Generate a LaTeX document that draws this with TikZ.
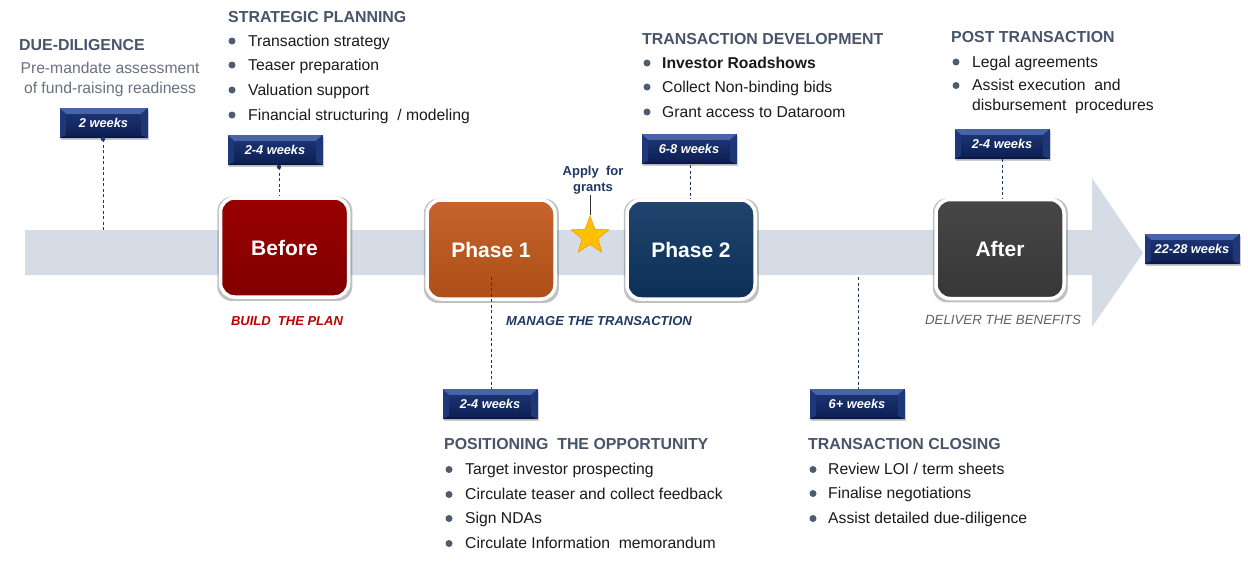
\documentclass[tikz,border=0pt]{standalone}
\usepackage{fontspec}
\setmainfont{Liberation Sans}
\usetikzlibrary{shapes.geometric,shadows,calc}
\definecolor{band}{HTML}{D6DCE5}
\definecolor{headc}{HTML}{47546A}
\definecolor{subc}{HTML}{6A7280}
\definecolor{bulc}{HTML}{4F5B6E}
\definecolor{txt}{HTML}{1A1A1A}
\definecolor{redb}{HTML}{990000}
\definecolor{orab}{HTML}{C0571A}
\definecolor{navb}{HTML}{0D3461}
\definecolor{grab}{HTML}{3D3D3D}
\definecolor{tagside}{HTML}{1E3778}
\definecolor{tagtopb}{HTML}{4864A6}
\definecolor{tagbotb}{HTML}{0B1A45}
\definecolor{tagtop}{HTML}{1B3371}
\definecolor{tagbot}{HTML}{0E2055}
\definecolor{dashc}{HTML}{1F3864}
\definecolor{starc}{HTML}{FFC000}
\begin{document}
\begin{tikzpicture}[x=1pt,y=-1pt,
  phase/.style={rounded corners=14pt, minimum width=128pt, minimum height=99pt,
    text=white, font=\bfseries\fontsize{21}{24}\selectfont, draw=white, line width=3.5pt,
    drop shadow={shadow scale=1.055, shadow xshift=0.3pt, shadow yshift=-1.2pt, opacity=0.4, fill=black!60}},
  tag/.style={minimum width=95pt, minimum height=30pt, inner sep=0pt, fill=tagside,
    text=white, font=\bfseries\itshape\fontsize{12.8}{14}\selectfont,
    drop shadow={opacity=0.4,shadow xshift=1.5pt,shadow yshift=-2pt},
    path picture={
      \fill[tagtopb] (path picture bounding box.north west) -- (path picture bounding box.north east)
        -- ([xshift=-7pt,yshift=-6pt]path picture bounding box.north east)
        -- ([xshift=7pt,yshift=-6pt]path picture bounding box.north west) -- cycle;
      \fill[tagbotb] (path picture bounding box.south west) -- (path picture bounding box.south east)
        -- ([xshift=-7pt,yshift=3pt]path picture bounding box.south east)
        -- ([xshift=7pt,yshift=3pt]path picture bounding box.south west) -- cycle;
      \fill[top color=tagtop,bottom color=tagbot]
      ([xshift=7pt,yshift=-6pt]path picture bounding box.north west) rectangle
      ([xshift=-7pt,yshift=3pt]path picture bounding box.south east);}},
  head/.style={anchor=base west, inner sep=0pt, text=headc, font=\bfseries\fontsize{15.9}{18}\selectfont},
  item/.style={anchor=base west, inner sep=0pt, text=txt, font=\fontsize{15.7}{18}\selectfont},
  dot/.style={circle, fill=bulc, inner sep=0pt, minimum size=7pt},
  link/.style={draw=dashc, line width=0.8pt, dash pattern=on 3pt off 2.5pt},
  stage/.style={font=\bfseries\itshape\fontsize{13}{15}\selectfont, inner sep=0pt}
]
\useasboundingbox[fill=white] (0,0) rectangle (1248,562);

% big arrow
\fill[band] (25,230) -- (1092,230) -- (1092,178) -- (1143,253) -- (1092,327)
  -- (1092,275) -- (25,275) -- cycle;

% phase boxes
\node[phase, top color=redb, bottom color=redb!85!black] (before) at (284.5,247.5) {Before};
\node[phase, top color=orab!92!white, bottom color=orab!90!black] (ph1) at (491,249.5) {Phase 1};
\node[phase, top color=navb!92!white, bottom color=navb!90!black] (ph2) at (691,249.5) {Phase 2};
\node[phase, top color=grab!95!white, bottom color=grab!90!black] (after) at (1000,249) {After};

% tags
\node[tag, minimum width=88pt] (t1) at (103.5,123) {2 weeks};
\node[tag] (t2) at (275,150) {2-4 weeks};
\node[tag] (t3) at (689,149) {6-8 weeks};
\node[tag] (t4) at (1002,144) {2-4 weeks};
\node[tag] (t5) at (490,404) {2-4 weeks};
\node[tag] (t6) at (857,404) {6+ weeks};
\node[tag] (t7) at (1192,249) {22-28 weeks};

% connector ends
\coordinate (c1) at (103,230);
\coordinate (c1s) at (103,139);
\coordinate (c2s) at (279,167);
\coordinate (c3s) at (690,165);
\coordinate (c5s) at (491,277);
\coordinate (c6s) at (858,277);

\draw[link] (c1s) -- (c1);
\fill[dashc] (c1s) circle (2.2pt);
\draw[link] (c2s) -- (c2s |- before.north);
\fill[dashc] (c2s) circle (2.2pt);
\draw[link] (c3s) -- (c3s |- ph2.north);
\draw[link] (t4.south) -- (t4.south |- after.north);
\draw[link] (c5s) -- (c5s |- t5.north);
\draw[link] (c6s) -- (c6s |- t6.north);

% star
\node[star, star points=5, star point ratio=2.4, minimum size=40pt, inner sep=0pt,
  fill=starc, draw=orange!80!yellow, line width=0.6pt] (star) at (590,236) {};
\node[align=center, text=dashc, font=\bfseries\fontsize{13}{16}\selectfont, inner sep=0pt] (grant) at (593,180) {Apply\ \ for\\grants};
\draw[line width=0.8pt, draw=black!80] (590,195) -- (star.north);

% stage labels
\node[stage, text=red!75!black] (s1) at (287,321) {BUILD\ \ THE PLAN};
\node[stage, text=dashc] (s2) at (599,321) {MANAGE THE TRANSACTION};
\node[stage, text=black!62, font=\itshape\fontsize{13.3}{15}\selectfont] (s3) at (1003,320) {DELIVER THE BENEFITS};

% due diligence
\node[head] (dd) at (19,50) {DUE-DILIGENCE};
\node[align=center, text=subc, font=\fontsize{15.7}{20}\selectfont, inner sep=0pt] (ddt) at (110,79) {Pre-mandate assessment\\of fund-raising readiness};

% strategic planning
\node[head] (sp) at (228,22) {STRATEGIC PLANNING};
\foreach \y/\t [count=\i] in {46/{Transaction strategy},70/{Teaser preparation},95/{Valuation support},120/{Financial structuring\ \ /\ modeling}}{
  \node[dot] (spd\i) at (232,\y-5) {};
  \node[item] (spi\i) at (248,\y) {\t};
}

% transaction development
\node[head] (td) at (642,44) {TRANSACTION DEVELOPMENT};
\node[dot] (tdd1) at (647,63) {};
\node[item, font=\bfseries\fontsize{15.7}{18}\selectfont] (tdi1) at (662,68) {Investor Roadshows};
\node[dot] (tdd2) at (647,87) {};
\node[item] (tdi2) at (662,92) {Collect Non-binding bids};
\node[dot] (tdd3) at (647,112) {};
\node[item] (tdi3) at (662,117) {Grant access to Dataroom};

% post transaction
\node[head] (pt) at (951,42) {POST TRANSACTION};
\node[dot] (ptd1) at (956,62) {};
\node[item] (pti1) at (972,67) {Legal agreements};
\node[dot] (ptd2) at (956,85.5) {};
\node[item] (pti2) at (972,90.5) {Assist execution\ \ and};
\node[item] (pti3) at (972,110.5) {disbursement\ \ procedures};

% positioning
\node[head] (po) at (444,449.5) {POSITIONING\ \ THE OPPORTUNITY};
\foreach \y/\t [count=\i] in {474.5/{Target investor prospecting},499.5/{Circulate teaser and collect feedback},523.5/{Sign NDAs},548.5/{Circulate Information\ \ memorandum}}{
  \node[dot] (pod\i) at (449,\y-5) {};
  \node[item] (poi\i) at (465,\y) {\t};
}

% closing
\node[head] (tc) at (808,449.5) {TRANSACTION CLOSING};
\foreach \y/\t [count=\i] in {474.5/{Review LOI / term sheets},498.5/{Finalise negotiations},523.5/{Assist detailed due-diligence}}{
  \node[dot] (tcd\i) at (813,\y-5) {};
  \node[item] (tci\i) at (828,\y) {\t};
}
\end{tikzpicture}
\end{document}
